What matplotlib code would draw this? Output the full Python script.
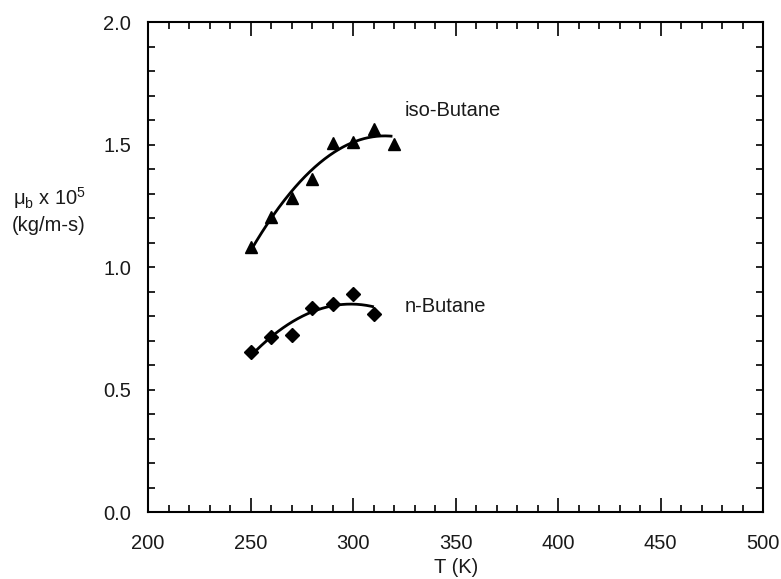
import numpy as np
import matplotlib
matplotlib.use("Agg")
import matplotlib.pyplot as plt
from matplotlib.ticker import MultipleLocator, FormatStrFormatter

plt.rcParams['font.family'] = ['Liberation Sans', 'DejaVu Sans']
plt.rcParams['mathtext.fontset'] = 'custom'
plt.rcParams['mathtext.rm'] = 'Liberation Sans'
plt.rcParams['mathtext.it'] = 'Liberation Sans'

T_iso = [250, 260, 270, 280, 290, 300, 310, 320]
mu_iso = [1.081, 1.203, 1.282, 1.358, 1.508, 1.510, 1.565, 1.504]
T_n = [250, 260, 270, 280, 290, 300, 310]
mu_n = [0.654, 0.715, 0.724, 0.835, 0.848, 0.891, 0.808]

fit_iso_range = [250, 318.5]
fit_n_range = [250, 309.5]

TXT = '#1a1a1a'
FS = 14.5

fig = plt.figure(figsize=(7.81, 5.79), dpi=100)
ax = fig.add_axes([0.1895, 0.1152, 0.7878, 0.8468])

for T, mu, rng, mk, ms in [(T_iso, mu_iso, fit_iso_range, '^', 8.5),
                           (T_n, mu_n, fit_n_range, 'D', 7)]:
    c = np.polyfit(T, mu, 2)
    tt = np.linspace(rng[0], rng[1], 200)
    ax.plot(tt, np.polyval(c, tt), color='black', lw=2)
    ax.plot(T, mu, linestyle='none', marker=mk, ms=ms, color='black')

ax.text(325.3, 1.615, 'iso-Butane', fontsize=FS, va='baseline', ha='left', color=TXT)
ax.text(325.3, 0.819, 'n-Butane', fontsize=FS, va='baseline', ha='left', color=TXT)

ax.set_xlim(200, 500)
ax.set_ylim(0, 2.0)
ax.xaxis.set_major_locator(MultipleLocator(50))
ax.xaxis.set_minor_locator(MultipleLocator(10))
ax.yaxis.set_major_locator(MultipleLocator(0.5))
ax.yaxis.set_minor_locator(MultipleLocator(0.1))
ax.xaxis.set_major_formatter(FormatStrFormatter('%d'))
ax.yaxis.set_major_formatter(FormatStrFormatter('%.1f'))
ax.tick_params(axis='x', which='major', direction='in', length=10, width=1.2, top=True,
               labelsize=FS, pad=15.5, labelcolor=TXT)
ax.tick_params(axis='x', which='minor', direction='in', length=5, width=1.2, top=True)
ax.tick_params(axis='y', which='both', direction='in', length=5, width=1.2, right=True,
               labelsize=FS, pad=12, labelcolor=TXT)
for s in ax.spines.values():
    s.set_linewidth(1.5)

ax.set_xlabel('T (K)', fontsize=FS, labelpad=4, color=TXT)
fig.text(0.017, 0.646, r'$\mu_{\mathregular{b}}$ x 10$^{\mathregular{5}}$', fontsize=FS,
         ha='left', va='baseline', color=TXT)
fig.text(0.015, 0.601, '(kg/m-s)', fontsize=FS, ha='left', va='baseline', color=TXT)

fig.savefig('out.png', dpi=100)
